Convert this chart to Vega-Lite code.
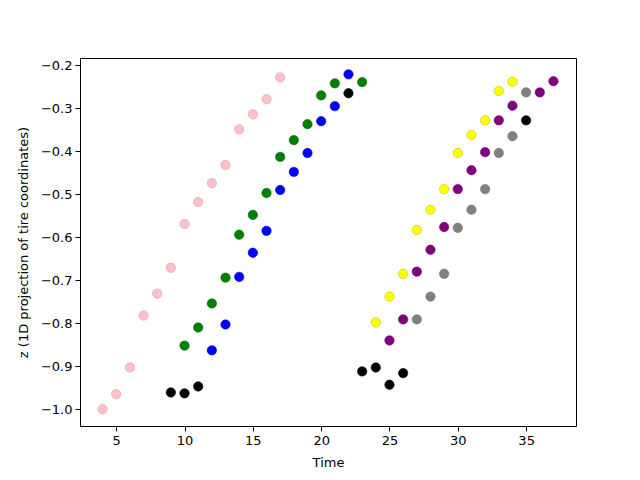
{
  "$schema": "https://vega.github.io/schema/vega-lite/v6.json",
  "width": 496,
  "height": 368,
  "autosize": "none",
  "padding": {"left": 80, "top": 58, "right": 64, "bottom": 54},
  "background": "white",
  "config": {
    "view": {"stroke": "black", "strokeWidth": 1},
    "axis": {
      "grid": false,
      "domain": false,
      "tickColor": "black",
      "tickSize": 5,
      "labelFont": "DejaVu Sans",
      "labelFontSize": 13,
      "labelColor": "black",
      "titleFont": "DejaVu Sans",
      "titleFontSize": 13,
      "titleFontWeight": "normal",
      "titleColor": "black",
      "labelPadding": 3
    }
  },
  "data": {
    "values": [
      {"t": 4, "z": -1.0, "c": "pink"},
      {"t": 5, "z": -0.965, "c": "pink"},
      {"t": 6, "z": -0.903, "c": "pink"},
      {"t": 7, "z": -0.782, "c": "pink"},
      {"t": 8, "z": -0.731, "c": "pink"},
      {"t": 9, "z": -0.671, "c": "pink"},
      {"t": 10, "z": -0.569, "c": "pink"},
      {"t": 11, "z": -0.518, "c": "pink"},
      {"t": 12, "z": -0.474, "c": "pink"},
      {"t": 13, "z": -0.432, "c": "pink"},
      {"t": 14, "z": -0.349, "c": "pink"},
      {"t": 15, "z": -0.314, "c": "pink"},
      {"t": 16, "z": -0.279, "c": "pink"},
      {"t": 17, "z": -0.228, "c": "pink"},
      {"t": 10, "z": -0.852, "c": "green"},
      {"t": 11, "z": -0.810, "c": "green"},
      {"t": 12, "z": -0.754, "c": "green"},
      {"t": 13, "z": -0.694, "c": "green"},
      {"t": 14, "z": -0.594, "c": "green"},
      {"t": 15, "z": -0.548, "c": "green"},
      {"t": 16, "z": -0.497, "c": "green"},
      {"t": 17, "z": -0.413, "c": "green"},
      {"t": 18, "z": -0.374, "c": "green"},
      {"t": 19, "z": -0.337, "c": "green"},
      {"t": 20, "z": -0.270, "c": "green"},
      {"t": 21, "z": -0.242, "c": "green"},
      {"t": 23, "z": -0.239, "c": "green"},
      {"t": 12, "z": -0.863, "c": "blue"},
      {"t": 13, "z": -0.803, "c": "blue"},
      {"t": 14, "z": -0.692, "c": "blue"},
      {"t": 15, "z": -0.636, "c": "blue"},
      {"t": 16, "z": -0.585, "c": "blue"},
      {"t": 17, "z": -0.490, "c": "blue"},
      {"t": 18, "z": -0.448, "c": "blue"},
      {"t": 19, "z": -0.404, "c": "blue"},
      {"t": 20, "z": -0.330, "c": "blue"},
      {"t": 21, "z": -0.295, "c": "blue"},
      {"t": 22, "z": -0.221, "c": "blue"},
      {"t": 9, "z": -0.961, "c": "black"},
      {"t": 10, "z": -0.963, "c": "black"},
      {"t": 11, "z": -0.947, "c": "black"},
      {"t": 22, "z": -0.265, "c": "black"},
      {"t": 23, "z": -0.912, "c": "black"},
      {"t": 24, "z": -0.903, "c": "black"},
      {"t": 25, "z": -0.943, "c": "black"},
      {"t": 26, "z": -0.916, "c": "black"},
      {"t": 35, "z": -0.328, "c": "black"},
      {"t": 24, "z": -0.798, "c": "yellow"},
      {"t": 25, "z": -0.738, "c": "yellow"},
      {"t": 26, "z": -0.685, "c": "yellow"},
      {"t": 27, "z": -0.583, "c": "yellow"},
      {"t": 28, "z": -0.536, "c": "yellow"},
      {"t": 29, "z": -0.488, "c": "yellow"},
      {"t": 30, "z": -0.404, "c": "yellow"},
      {"t": 31, "z": -0.362, "c": "yellow"},
      {"t": 32, "z": -0.328, "c": "yellow"},
      {"t": 33, "z": -0.260, "c": "yellow"},
      {"t": 34, "z": -0.238, "c": "yellow"},
      {"t": 25, "z": -0.840, "c": "purple"},
      {"t": 26, "z": -0.791, "c": "purple"},
      {"t": 27, "z": -0.680, "c": "purple"},
      {"t": 28, "z": -0.629, "c": "purple"},
      {"t": 29, "z": -0.576, "c": "purple"},
      {"t": 30, "z": -0.488, "c": "purple"},
      {"t": 31, "z": -0.444, "c": "purple"},
      {"t": 32, "z": -0.402, "c": "purple"},
      {"t": 33, "z": -0.328, "c": "purple"},
      {"t": 34, "z": -0.294, "c": "purple"},
      {"t": 36, "z": -0.263, "c": "purple"},
      {"t": 37, "z": -0.237, "c": "purple"},
      {"t": 27, "z": -0.791, "c": "gray"},
      {"t": 28, "z": -0.738, "c": "gray"},
      {"t": 29, "z": -0.685, "c": "gray"},
      {"t": 30, "z": -0.578, "c": "gray"},
      {"t": 31, "z": -0.536, "c": "gray"},
      {"t": 32, "z": -0.488, "c": "gray"},
      {"t": 33, "z": -0.404, "c": "gray"},
      {"t": 34, "z": -0.365, "c": "gray"},
      {"t": 35, "z": -0.263, "c": "gray"}
    ]
  },
  "mark": {"type": "circle", "size": 88, "opacity": 1, "strokeWidth": 0.6},
  "encoding": {
    "x": {
      "field": "t", "type": "quantitative", "title": "Time",
      "scale": {"domain": [2.35, 38.65], "nice": false, "zero": false},
      "axis": {"values": [5, 10, 15, 20, 25, 30, 35], "titlePadding": 9}
    },
    "y": {
      "field": "z", "type": "quantitative", "title": "z (1D projection of tire coordinates)",
      "scale": {"domain": [-1.039, -0.183], "nice": false, "zero": false},
      "axis": {"values": [-1.0, -0.9, -0.8, -0.7, -0.6, -0.5, -0.4, -0.3, -0.2], "format": ".1f", "titlePadding": 10}
    },
    "color": {
      "field": "c", "type": "nominal", "legend": null,
      "scale": {
        "domain": ["pink", "green", "blue", "black", "yellow", "purple", "gray"],
        "range": ["#ffc0cb", "#008000", "#0000ff", "#000000", "#ffff00", "#800080", "#808080"]
      }
    },
    "stroke": {
      "field": "c", "type": "nominal", "legend": null,
      "scale": {
        "domain": ["pink", "green", "blue", "black", "yellow", "purple", "gray"],
        "range": ["#d9a0a8", "#006800", "#0000d0", "#000000", "#c8c000", "#680068", "#707070"]
      }
    }
  }
}
